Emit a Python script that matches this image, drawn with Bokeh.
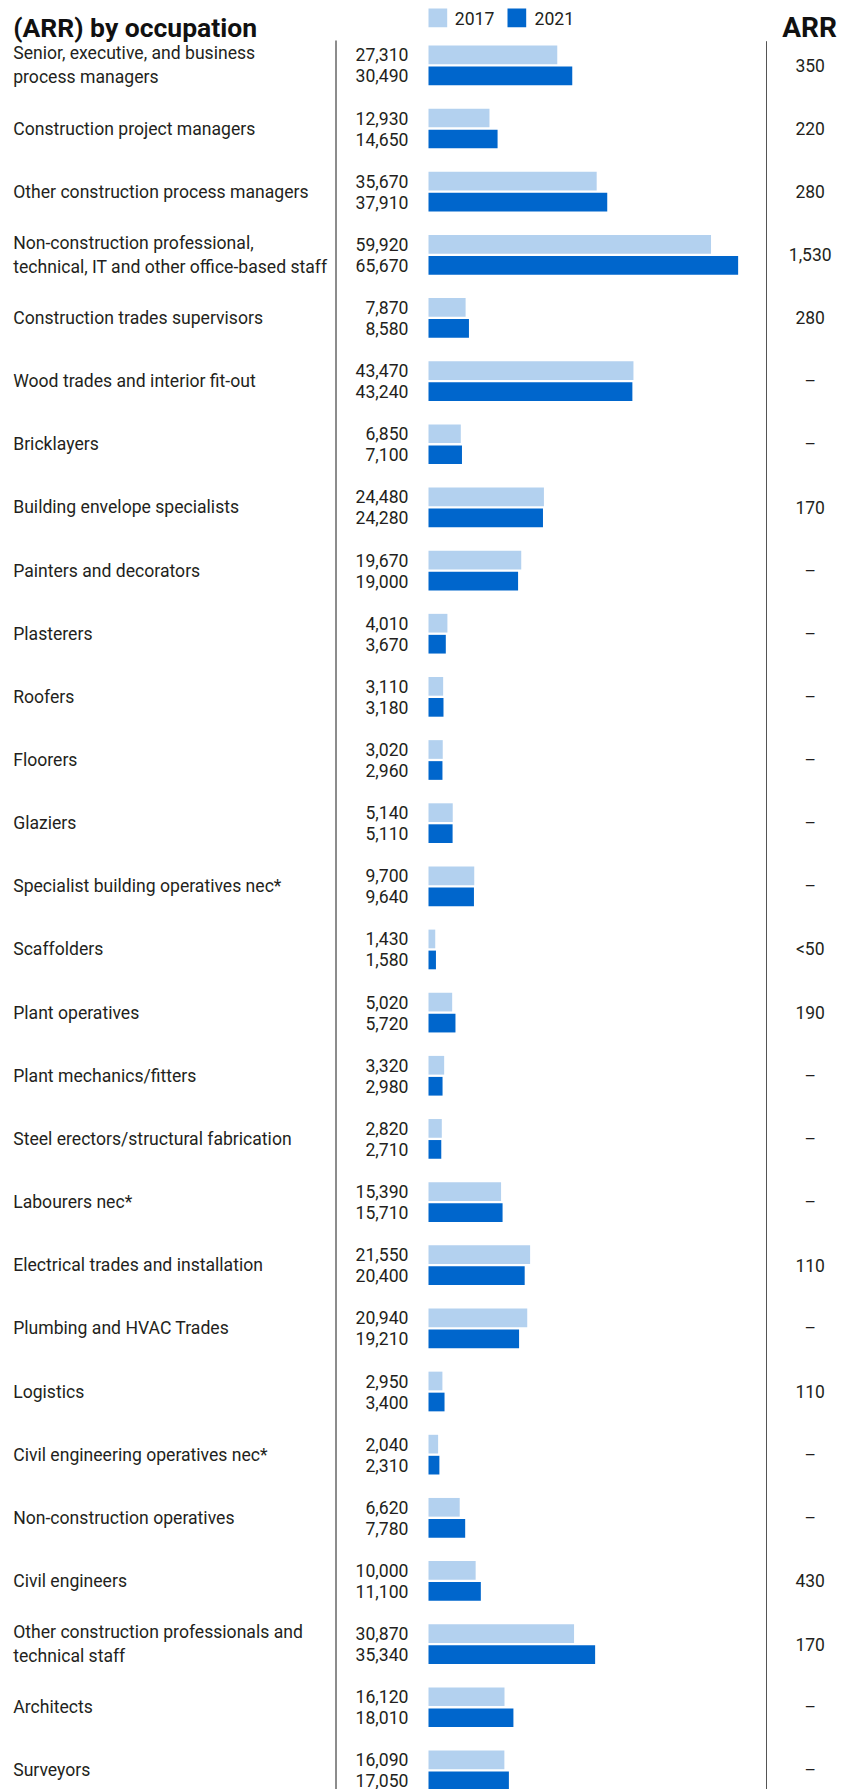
from bokeh.plotting import figure
from bokeh.models import Range1d, ColumnDataSource
from bokeh.transform import dodge
from bokeh.core.properties import value
from bokeh.embed import file_html
from bokeh.resources import INLINE

# ---------------- data ----------------
occupations = [
    "Senior, executive, and business\nprocess managers",
    "Construction project managers",
    "Other construction process managers",
    "Non-construction professional,\ntechnical, IT and other office-based staff",
    "Construction trades supervisors",
    "Wood trades and interior fit-out",
    "Bricklayers",
    "Building envelope specialists",
    "Painters and decorators",
    "Plasterers",
    "Roofers",
    "Floorers",
    "Glaziers",
    "Specialist building operatives nec*",
    "Scaffolders",
    "Plant operatives",
    "Plant mechanics/fitters",
    "Steel erectors/structural fabrication",
    "Labourers nec*",
    "Electrical trades and installation",
    "Plumbing and HVAC Trades",
    "Logistics",
    "Civil engineering operatives nec*",
    "Non-construction operatives",
    "Civil engineers",
    "Other construction professionals and\ntechnical staff",
    "Architects",
    "Surveyors",
]
v2017 = [27310, 12930, 35670, 59920, 7870, 43470, 6850, 24480, 19670, 4010,
         3110, 3020, 5140, 9700, 1430, 5020, 3320, 2820, 15390, 21550,
         20940, 2950, 2040, 6620, 10000, 30870, 16120, 16090]
v2021 = [30490, 14650, 37910, 65670, 8580, 43240, 7100, 24280, 19000, 3670,
         3180, 2960, 5110, 9640, 1580, 5720, 2980, 2710, 15710, 20400,
         19210, 3400, 2310, 7780, 11100, 35340, 18010, 17050]
arr = ["350", "220", "280", "1,530", "280", "–", "–", "170", "–", "–",
       "–", "–", "–", "–", "<50", "190", "–", "–", "–", "110",
       "–", "110", "–", "–", "430", "170", "–", "–"]
years = ["2017", "2021"]
title = "(ARR) by occupation"
arr_header = "ARR"

# ---------------- layout constants ----------------
W, H = 850, 1789
ROW_PX = 63.15        # spacing between rows
ROW0_PX = 64.85       # first row centre (px from top of canvas)
ZERO_PX = 428         # x pixel of value 0
PX_PER_UNIT = 0.004715
BAR_H_PX = 18.7
BAR_OFF_PX = 10.5

C17 = "#b3d1ef"
C21 = "#0066cc"
TXT = "#231f20"
FONT = value("Roboto")

x_start = -ZERO_PX / PX_PER_UNIT
x_end = (W - ZERO_PX) / PX_PER_UNIT
y_top = -ROW0_PX / ROW_PX
y_bottom = (H - ROW0_PX) / ROW_PX

p = figure(width=W, height=H,
           x_range=Range1d(x_start, x_end),
           y_range=Range1d(y_bottom, y_top),
           x_axis_location=None, y_axis_location=None,
           output_backend="svg", toolbar_location=None, min_border=0)
p.grid.visible = False
p.outline_line_color = None
p.background_fill_color = "white"
p.border_fill_color = "white"
p.extra_x_ranges = {"px": Range1d(0, W)}
p.extra_y_ranges = {"py": Range1d(H, 0)}

idx = list(range(len(occupations)))
src = ColumnDataSource(dict(
    y=idx, occ=occupations, v17=v2017, v21=v2021,
    l17=[f"{v:,}" for v in v2017], l21=[f"{v:,}" for v in v2021], arr=arr,
))
off = BAR_OFF_PX / ROW_PX
bh = BAR_H_PX / ROW_PX

p.hbar(y=dodge("y", -off, range=p.y_range), left=0, right="v17", height=bh,
       fill_color=C17, line_color=None, source=src)
p.hbar(y=dodge("y", off, range=p.y_range), left=0, right="v21", height=bh,
       fill_color=C21, line_color=None, source=src)

# value labels
for col, sign in (("l17", -1), ("l21", 1)):
    p.text(x=408, y=dodge("y", sign * off, range=p.y_range), text=col, source=src,
           x_range_name="px", text_align="right", text_baseline="middle",
           text_font=FONT, text_font_size="17.6px", text_color=TXT)

# category labels
p.text(x=12.7, y="y", text="occ", source=src, x_range_name="px",
       text_align="left", text_baseline="middle", text_line_height=1.21,
       text_font=FONT, text_font_size="17.6px", text_color=TXT)

# ARR labels
p.text(x=809.7, y="y", text="arr", source=src, x_range_name="px",
       text_align="center", text_baseline="middle",
       text_font=FONT, text_font_size="17.5px", text_color=TXT)

# divider lines
p.segment(x0=[335.5, 766], y0=[40, 40.7], x1=[335.5, 766], y1=[H, H],
          x_range_name="px", y_range_name="py",
          line_color=["#1a1a1a", "#555555"], line_width=1)

# legend
p.quad(left=[428, 507], right=[446.7, 525.7], top=[8, 8], bottom=[26.7, 26.7],
       x_range_name="px", y_range_name="py",
       fill_color=[C17, C21], line_color=None)
p.text(x=[454.3, 534], y=[17.6, 17.6], text=years, x_range_name="px", y_range_name="py",
       text_align="left", text_baseline="middle",
       text_font=FONT, text_font_size="17.6px", text_color=TXT)

# titles
p.text(x=[12.7], y=[27], text=[title], x_range_name="px", y_range_name="py",
       text_align="left", text_baseline="alphabetic",
       text_font=FONT, text_font_style="bold", text_font_size="26.5px", text_color="#111111")
p.text(x=[781.7], y=[27.3], text=[arr_header], x_range_name="px", y_range_name="py",
       text_align="left", text_baseline="alphabetic",
       text_font=FONT, text_font_style="bold",
       text_font_size="28px", text_color="#111111")

open("out.html", "w").write(file_html(p, INLINE))
